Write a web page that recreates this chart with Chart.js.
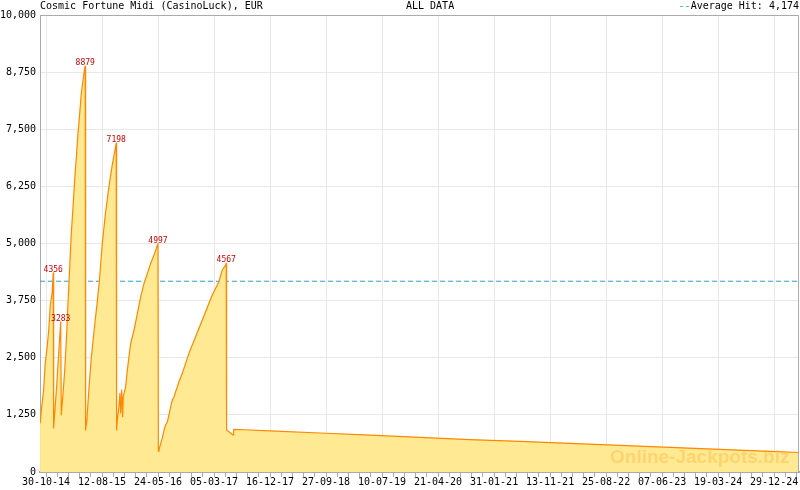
<!DOCTYPE html>
<html>
<head>
<meta charset="utf-8">
<script src="https://cdn.jsdelivr.net/npm/chart.js"></script>
<style>
    body { margin: 0; background: #fff; }
    #wrap { position: relative; width: 800px; height: 490px; }
    .hdr { position: absolute; top: 0; font: 10px "DejaVu Sans Mono", monospace; line-height: 12px; color: #000; white-space: pre; }
    #mark { position: absolute; left: 610px; top: 447px; font: bold 19px "Liberation Sans", Arial, sans-serif; line-height: 19px; color: rgba(255, 170, 40, 0.35); pointer-events: none; }
</style>
</head>
<body>
<div id="wrap">
    <canvas id="jackpot-chart" width="800" height="490"></canvas>
    <div class="hdr" style="left:40px">Cosmic Fortune Midi (CasinoLuck), EUR</div>
    <div class="hdr" style="left:406px">ALL DATA</div>
    <div class="hdr" style="right:1px"><span style="color:#2a9fd6">--</span>Average Hit: 4,174</div>
    <div id="mark">Online-Jackpots.biz</div>
</div>
<script>
// days counted from the first x tick (30-10-14)
const dayOffsets = [
    -30, -20, -12, -4, 5, 14, 22, 31, 37,
    39, 45, 53, 61, 68, 75,
    78, 87, 95, 104, 112, 121, 129, 138, 146, 155, 163, 172, 180, 189, 197, 200,
    202, 208, 214, 221, 231, 246, 262, 272, 287, 303, 321, 339, 352, 358,
    360, 364, 372, 377, 381, 386, 391, 394, 406, 415, 423, 432, 449, 466, 483, 500, 517, 534, 551, 571,
    573, 576, 585, 593, 602, 610, 619, 627, 636, 644, 653, 661, 670, 678, 695, 712, 729, 746, 763, 780, 797, 814, 831, 848, 865, 882, 891, 899, 916, 919,
    921, 933, 954, 957, 1015, 1142, 1397, 1652, 1907, 2162, 2417, 2672, 2927, 3182, 3437, 3692, 3840
];
const hitValues = [
    1065, 1503, 1794, 2378, 2706, 3107, 3654, 3910, 4356,
    963, 1320, 1795, 2340, 2822, 3283,
    1247, 1722, 2195, 2888, 3691, 4492, 5222, 5805, 6389, 6899, 7410, 7848, 8286, 8577, 8833, 8879,
    919, 1100, 1510, 1950, 2500, 3130, 3750, 4174, 5000, 5650, 6250, 6750, 7050, 7198,
    919, 1138, 1430, 1722, 1290, 1795, 1210, 1648, 1867, 2232, 2523, 2816, 3107, 3472, 3836, 4128, 4347, 4566, 4748, 4997,
    450, 481, 627, 737, 919, 1028, 1101, 1247, 1430, 1575, 1648, 1757, 1867, 1976, 2159, 2378, 2597, 2779, 2961, 3144, 3326, 3508, 3691, 3873, 4019, 4164, 4310, 4420, 4529, 4567,
    919, 882, 810, 934, 925, 900, 853, 805, 758, 710, 672, 628, 584, 540, 496, 452, 427
];
const peakValues = [4356, 3283, 8879, 7198, 4997, 4567];
const averageHit = 4174;
const xTickLabels = [
    '30-10-14', '12-08-15', '24-05-16', '05-03-17', '16-12-17', '27-09-18', '10-07-19',
    '21-04-20', '31-01-21', '13-11-21', '25-08-22', '07-06-23', '19-03-24', '29-12-24'
];

const xMin = -30.6;
const xMax = 3840;
const minorStep = 57.124; // 5 minor steps per labelled tick

function majorIndex(v) {
    const n = Math.round(v / minorStep);
    return n % 5 === 0 ? n / 5 : -1;
}

const framePlugin = {
    id: 'frame',
    afterDraw(chart) {
        const { ctx, chartArea: a } = chart;
        ctx.save();
        ctx.strokeStyle = '#aaaaaa';
        ctx.lineWidth = 1;
        ctx.beginPath();
        ctx.moveTo(a.left, a.top + 0.5);
        ctx.lineTo(a.right - 0.5, a.top + 0.5);
        ctx.lineTo(a.right - 0.5, a.bottom);
        ctx.stroke();
        ctx.restore();
    }
};

const peakLabelPlugin = {
    id: 'peakLabels',
    afterDatasetsDraw(chart) {
        const meta = chart.getDatasetMeta(0);
        const ctx = chart.ctx;
        ctx.save();
        ctx.font = '8px "DejaVu Sans Mono"';
        ctx.fillStyle = '#cc0000';
        ctx.textAlign = 'center';
        ctx.textBaseline = 'alphabetic';
        hitValues.forEach((v, i) => {
            if (!peakValues.includes(v)) return;
            const pt = meta.data[i];
            ctx.fillText(String(v), pt.x, pt.y - 1);
        });
        ctx.restore();
    }
};

const points = dayOffsets.map((d, i) => ({ x: d, y: hitValues[i] }));
const monoFont = { family: 'DejaVu Sans Mono', size: 10, lineHeight: 1 };

const ctx = document.getElementById('jackpot-chart').getContext('2d');
const jackpotChart = new Chart(ctx, {
    type: 'line',
    data: {
        datasets: [{
            data: points,
            borderColor: '#ff8800',
            backgroundColor: '#ffea93',
            borderWidth: 1.2,
            borderJoinStyle: 'round',
            fill: 'origin',
            pointRadius: 0,
            tension: 0,
        }, {
            data: [{ x: xMin, y: averageHit }, { x: xMax, y: averageHit }],
            borderColor: '#2a9fd6',
            borderWidth: 1,
            borderDash: [5, 3],
            fill: false,
            pointRadius: 0,
        }]
    },
    options: {
        responsive: false,
        animation: false,
        layout: { padding: { top: 15, right: 1 } },
        plugins: {
            legend: { display: false },
            tooltip: { enabled: false },
        },
        scales: {
            x: {
                type: 'linear',
                min: xMin,
                max: xMax,
                afterFit: (scale) => { scale.height = 18; },
                border: { color: '#aaaaaa', width: 2 },
                grid: {
                    color: (c) => majorIndex(c.tick.value) >= 0 ? '#e8e8e8' : 'rgba(0,0,0,0)',
                    tickColor: '#aaaaaa',
                    tickLength: 5,
                },
                ticks: {
                    stepSize: minorStep,
                    includeBounds: false,
                    autoSkip: false,
                    maxRotation: 0,
                    minRotation: 0,
                    padding: 0,
                    color: '#000',
                    font: monoFont,
                    callback: (v) => {
                        const k = majorIndex(v);
                        return k >= 0 && xTickLabels[k] ? xTickLabels[k] : '';
                    }
                }
            },
            y: {
                min: 0,
                max: 10000,
                afterFit: (scale) => { scale.width = 40; },
                border: { color: '#aaaaaa', width: 1 },
                grid: { color: '#e8e8e8', drawTicks: false },
                ticks: {
                    stepSize: 1250,
                    padding: 4,
                    color: '#000',
                    font: monoFont,
                    callback: (v) => v.toLocaleString('en-US')
                }
            }
        }
    },
    plugins: [framePlugin, peakLabelPlugin]
});
</script>
</body>
</html>
